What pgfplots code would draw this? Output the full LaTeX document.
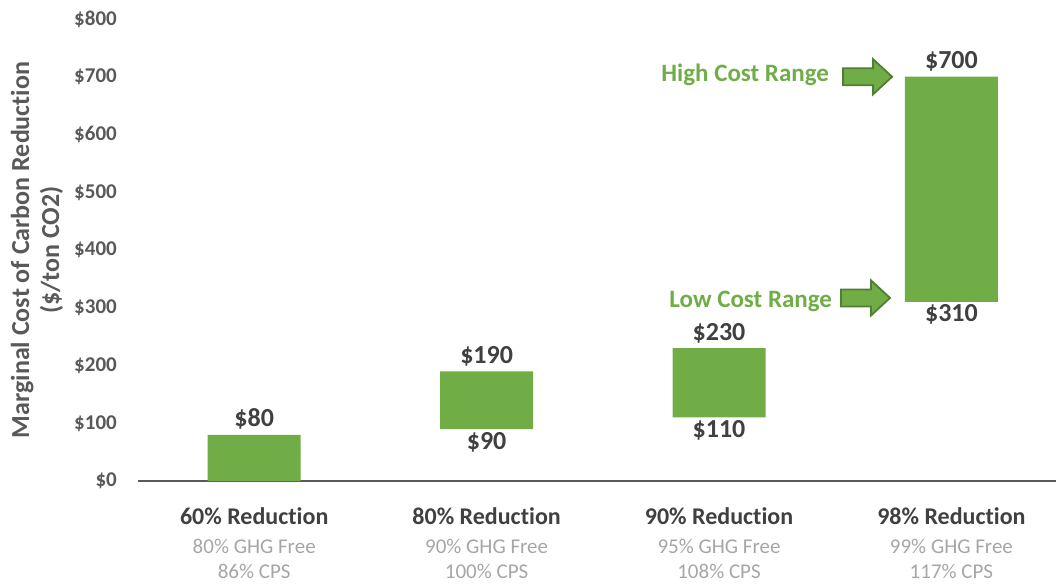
\documentclass[border=0pt]{standalone}
\usepackage{fontspec}
\setmainfont{Carlito}[Ligatures={NoCommon}]
\usepackage{pgfplots}
\usepackage{pgfplotstable}
\pgfplotsset{compat=1.18}
\definecolor{barg}{HTML}{70AD47}
\definecolor{arrowb}{HTML}{507E32}
\definecolor{darkt}{HTML}{404040}
\definecolor{tickt}{HTML}{595959}
\definecolor{lightt}{HTML}{A6A6A6}

% low end, increment, high end of each range
\pgfplotstableread{
x lo inc hi
0 0 80 80
1 90 100 190
2 110 120 230
3 310 390 700
}\bardata
\pgfplotstableread{
x lo lolab
1 90 \$90
2 110 \$110
3 310 \$310
}\lodata
\pgfplotstableread{
x hi hilab
0 80 \$80
1 190 \$190
2 230 \$230
3 700 \$700
}\hidata

\pgfplotsset{base/.style={
  at={(0pt,0pt)}, anchor=south west,
  scale only axis, width=918pt, height=462pt,
  xmin=-0.5, xmax=3.45, ymin=0, ymax=800,
  enlargelimits=false, clip=false}}

\begin{document}
\begin{tikzpicture}
\path[use as bounding box] (-138pt,-103pt) rectangle (918pt,481pt);
\begin{axis}[
  base,
  ybar stacked, bar width=93pt,
  axis x line*=bottom, axis y line*=left,
  x axis line style={draw=tickt, line width=2pt, -},
  y axis line style={draw=none},
  major tick length=0pt,
  /pgf/number format/assume math mode=true,
  ytick={0,100,...,800},
  yticklabels={\$0,\$100,\$200,\$300,\$400,\$500,\$600,\$700,\$800},
  yticklabel style={font=\fontsize{21}{21}\selectfont\bfseries, text=tickt, anchor=east, inner sep=0pt, xshift=-21pt},
  xtick={0,1,2,3},
  xticklabels={
    {{\fontsize{24}{25}\selectfont\bfseries\color{darkt}60\% Reduction}\\[4pt]80\% GHG Free\\86\% CPS},
    {{\fontsize{24}{25}\selectfont\bfseries\color{darkt}80\% Reduction}\\[4pt]90\% GHG Free\\100\% CPS},
    {{\fontsize{24}{25}\selectfont\bfseries\color{darkt}90\% Reduction}\\[4pt]95\% GHG Free\\108\% CPS},
    {{\fontsize{24}{25}\selectfont\bfseries\color{darkt}98\% Reduction}\\[4pt]99\% GHG Free\\117\% CPS}},
  xticklabel style={align=center, anchor=north, inner sep=0pt, yshift=-26pt, font=\fontsize{21}{25}\selectfont, text=lightt},
  ylabel={Marginal Cost of Carbon Reduction\\(\$/ton CO2)},
  every axis y label/.style={at={(axis description cs:-0.110,0.5)}, anchor=center, rotate=90, align=center, font=\fontsize{26}{30}\selectfont\bfseries, text=tickt},
]
\addplot[draw=none, fill=none] table[x=x, y=lo]{\bardata};
\addplot[draw=none, fill=barg] table[x=x, y=inc]{\bardata};
\end{axis}

\begin{axis}[base, hide axis]
\addplot[only marks, mark=none, nodes near coords, point meta=explicit symbolic,
  every node near coord/.append style={anchor=base, yshift=-20pt, font=\fontsize{26}{26}\selectfont\bfseries, text=darkt}]
  table[x=x, y=lo, meta=lolab]{\lodata};
\addplot[only marks, mark=none, nodes near coords, point meta=explicit symbolic,
  every node near coord/.append style={anchor=base, yshift=8pt, font=\fontsize{26}{26}\selectfont\bfseries, text=darkt}]
  table[x=x, y=hi, meta=hilab]{\hidata};

\node[anchor=base east, text=barg, font=\fontsize{25}{25}\selectfont\bfseries, inner sep=0pt] at (axis cs:2.474,691) {High Cost Range};
\node[anchor=base east, text=barg, font=\fontsize{25}{25}\selectfont\bfseries, inner sep=0pt] at (axis cs:2.487,301) {Low Cost Range};
\draw[fill=barg, draw=arrowb, line width=1.8pt, line join=miter] (axis cs:2.534,700) ++(0pt,-8.5pt) -- ++(30pt,0pt) -- ++(0pt,-9pt) -- ++(19pt,17.5pt) -- ++(-19pt,17.5pt) -- ++(0pt,-9pt) -- ++(-30pt,0pt) -- cycle;
\draw[fill=barg, draw=arrowb, line width=1.8pt, line join=miter] (axis cs:2.525,317) ++(0pt,-8.5pt) -- ++(30pt,0pt) -- ++(0pt,-9pt) -- ++(19pt,17.5pt) -- ++(-19pt,17.5pt) -- ++(0pt,-9pt) -- ++(-30pt,0pt) -- cycle;
\end{axis}
\end{tikzpicture}
\end{document}
